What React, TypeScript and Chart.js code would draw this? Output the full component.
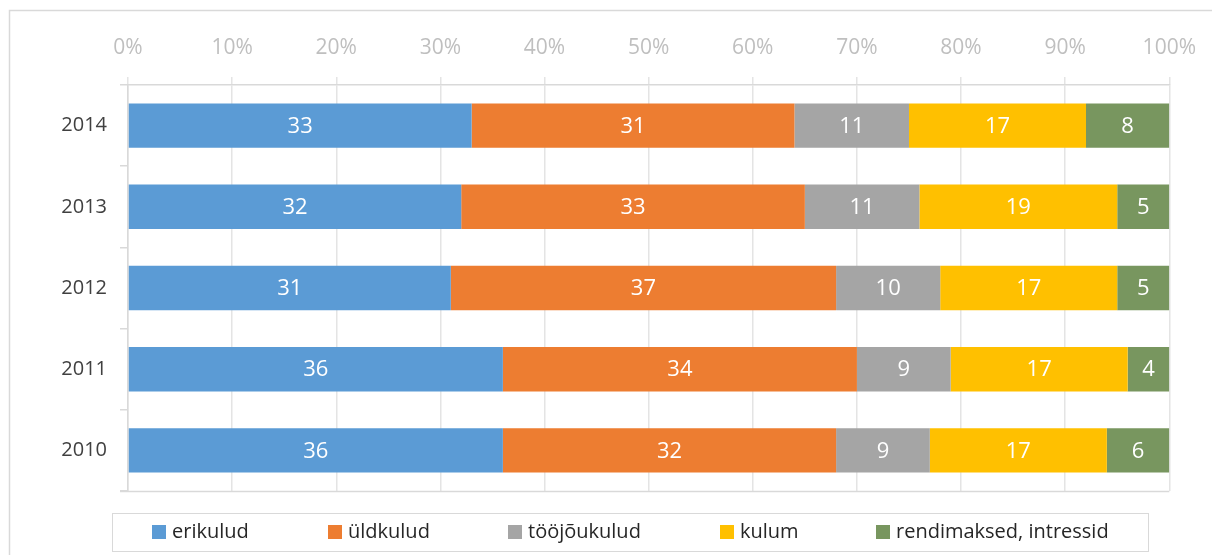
import React, { useEffect, useRef } from "react";
import { Chart, registerables } from "chart.js";

Chart.register(...registerables);

const years = ["2014", "2013", "2012", "2011", "2010"];
const seriesNames = ["erikulud", "üldkulud", "tööjõukulud", "kulum", "rendimaksed, intressid"];
const erikulud = [33, 32, 31, 36, 36];
const uldkulud = [31, 33, 37, 34, 32];
const toojoukulud = [11, 11, 10, 9, 9];
const kulum = [17, 19, 17, 17, 17];
const rendimaksed = [8, 5, 5, 4, 6];
const seriesColors = ["#5B9BD5", "#ED7D31", "#A5A5A5", "#FFC000", "#78965F"];

const FONT = "'Open Sans', sans-serif";
const GRID = "#e4e4e4";
const BORDER = "#d9d9d9";

const legendBox = { x: 112, y: 513, w: 1036, h: 38 };
const legendItemX = [152, 328, 508, 720, 876];

const framePlugin = {
  id: "frame",
  beforeDraw(chart: any) {
    const { ctx, width, height } = chart;
    ctx.save();
    ctx.fillStyle = "#ffffff";
    ctx.fillRect(0, 0, width, height);
    ctx.strokeStyle = BORDER;
    ctx.lineWidth = 1.5;
    ctx.beginPath();
    ctx.moveTo(9.5, height);
    ctx.lineTo(9.5, 10.5);
    ctx.lineTo(width, 10.5);
    ctx.stroke();
    ctx.restore();
  },
  afterDatasetsDraw(chart: any) {
    const { ctx, chartArea } = chart;
    ctx.save();
    ctx.strokeStyle = BORDER;
    ctx.lineWidth = 1.5;
    ctx.beginPath();
    ctx.moveTo(chartArea.left - 8, chartArea.bottom + 0.5);
    ctx.lineTo(chartArea.right, chartArea.bottom + 0.5);
    ctx.stroke();
    // value labels
    ctx.fillStyle = "#ffffff";
    ctx.font = `22px ${FONT}`;
    ctx.textAlign = "center";
    ctx.textBaseline = "middle";
    chart.data.datasets.forEach((ds: any, di: number) => {
      const meta = chart.getDatasetMeta(di);
      meta.data.forEach((el: any, i: number) => {
        const v = ds.data[i];
        const cx = (el.x + el.base) / 2;
        ctx.fillText(String(Math.round(v)), cx, el.y + 1);
      });
    });
    ctx.restore();
  },
  afterDraw(chart: any) {
    const { ctx } = chart;
    ctx.save();
    ctx.strokeStyle = BORDER;
    ctx.lineWidth = 1;
    ctx.strokeRect(legendBox.x + 0.5, legendBox.y + 0.5, legendBox.w, legendBox.h);
    ctx.font = `20px ${FONT}`;
    ctx.textBaseline = "middle";
    ctx.textAlign = "left";
    const cy = legendBox.y + legendBox.h / 2;
    chart.data.datasets.forEach((ds: any, i: number) => {
      const x = legendItemX[i];
      ctx.fillStyle = ds.backgroundColor;
      ctx.fillRect(x, cy - 7, 14, 14);
      ctx.fillStyle = "#262626";
      ctx.fillText(ds.label, x + 20, cy);
    });
    ctx.restore();
  },
};

export default function App() {
  const ref = useRef<HTMLCanvasElement | null>(null);
  useEffect(() => {
    if (!ref.current) return;
    const values = [erikulud, uldkulud, toojoukulud, kulum, rendimaksed];
    const chart = new Chart(ref.current, {
      type: "bar",
      data: {
        labels: years,
        datasets: seriesNames.map((name, i) => ({
          label: name,
          data: values[i],
          backgroundColor: seriesColors[i],
          borderWidth: 0,
          categoryPercentage: 1,
          barPercentage: 0.547,
        })),
      },
      options: {
        indexAxis: "y",
        animation: false,
        responsive: false,
        maintainAspectRatio: false,
        layout: { padding: { left: 0, top: 0, right: 42, bottom: 64 } },
        plugins: { legend: { display: false }, tooltip: { enabled: false } },
        scales: {
          x: {
            position: "top",
            stacked: true,
            min: 0,
            max: 100,
            afterFit(scale: any) {
              scale.height = 85;
            },
            ticks: {
              stepSize: 10,
              color: "#bfbfbf",
              font: { family: FONT, size: 21 },
              padding: 16,
              callback: (v: any) => v + "%",
            },
            grid: { color: GRID, tickLength: 8, lineWidth: 1.5 },
            border: { color: BORDER, width: 1.5 },
          },
          y: {
            stacked: true,
            afterFit(scale: any) {
              scale.width = 128;
            },
            ticks: {
              color: "#404040",
              font: { family: FONT, size: 20 },
              padding: 13,
            },
            grid: { offset: true, drawOnChartArea: false, color: BORDER, tickLength: 8, lineWidth: 1.5 },
            border: { color: BORDER, width: 1.5 },
          },
        },
      },
      plugins: [framePlugin],
    });
    return () => chart.destroy();
  }, []);
  return (
    <div style={{ position: "fixed", left: 0, top: 0, width: 1212, height: 555, background: "#fff" }}>
      <canvas ref={ref} width={1212} height={555} style={{ width: 1212, height: 555, display: "block" }} />
    </div>
  );
}
